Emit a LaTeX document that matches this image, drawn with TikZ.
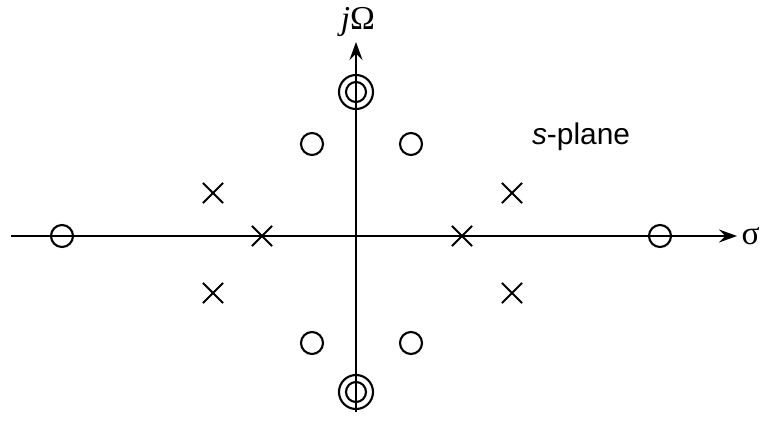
\documentclass[tikz,border=0pt]{standalone}
\usepackage{fontspec}
\setmainfont{Liberation Serif}
\newfontfamily\planefont{Liberation Sans}
\usepackage{tikz}
\usetikzlibrary{arrows.meta, shapes.misc}

\begin{document}
\begin{tikzpicture}[line width=1.2pt, font=\fontsize{19}{22}\selectfont,
    pole/.style={draw, cross out, minimum size=0.36cm, inner sep=0pt},
    zero/.style={draw, circle, minimum size=0.44cm, inner sep=0pt},
    zeroin/.style={draw, circle, minimum size=0.4cm, inner sep=0pt},
    zeroout/.style={draw, circle, minimum size=0.68cm, inner sep=0pt},
    axis/.style={-{Stealth[length=3.6mm, width=2.6mm, inset=1.3mm]}}]
    \useasboundingbox (-7.12,-3.74) rectangle (8.1,4.72);

    % axes
    \coordinate (xl) at (-6.9,0);
    \coordinate (xr) at (7.62,0);
    \coordinate (yb) at (0,-3.52);
    \coordinate (yt) at (0,3.88);
    \draw[axis] (xl) -- (xr);
    \draw[axis] (yb) -- (yt);
    \node[anchor=west, inner sep=2pt] (sigma) at (xr) {σ};
    \node[anchor=south, inner sep=2pt] (jomega) at (0.04,3.9) {\textit{j}Ω};
    \node[anchor=base, font=\planefont\fontsize{17}{20}\selectfont] (plane) at (4.5,1.82) {\textit{s}-plane};

    % poles
    \node[pole] (p1) at (-2.86,0.86) {};
    \node[pole] (p2) at (-2.86,-1.14) {};
    \node[pole] (p3) at (-1.88,0) {};
    \node[pole] (p4) at (2.12,0) {};
    \node[pole] (p5) at (3.12,0.86) {};
    \node[pole] (p6) at (3.12,-1.14) {};

    % zeros
    \node[zero] (z1) at (-5.88,0) {};
    \node[zero] (z2) at (6.08,0) {};
    \node[zero] (z3) at (-0.88,1.84) {};
    \node[zero] (z4) at (1.1,1.84) {};
    \node[zero] (z5) at (-0.88,-2.14) {};
    \node[zero] (z6) at (1.1,-2.14) {};

    % double zeros
    \node[zeroin] (zz1) at (0,2.88) {};
    \node[zeroout] (zz1o) at (zz1) {};
    \node[zeroin] (zz2) at (0,-3.12) {};
    \node[zeroout] (zz2o) at (zz2) {};
\end{tikzpicture}
\end{document}
